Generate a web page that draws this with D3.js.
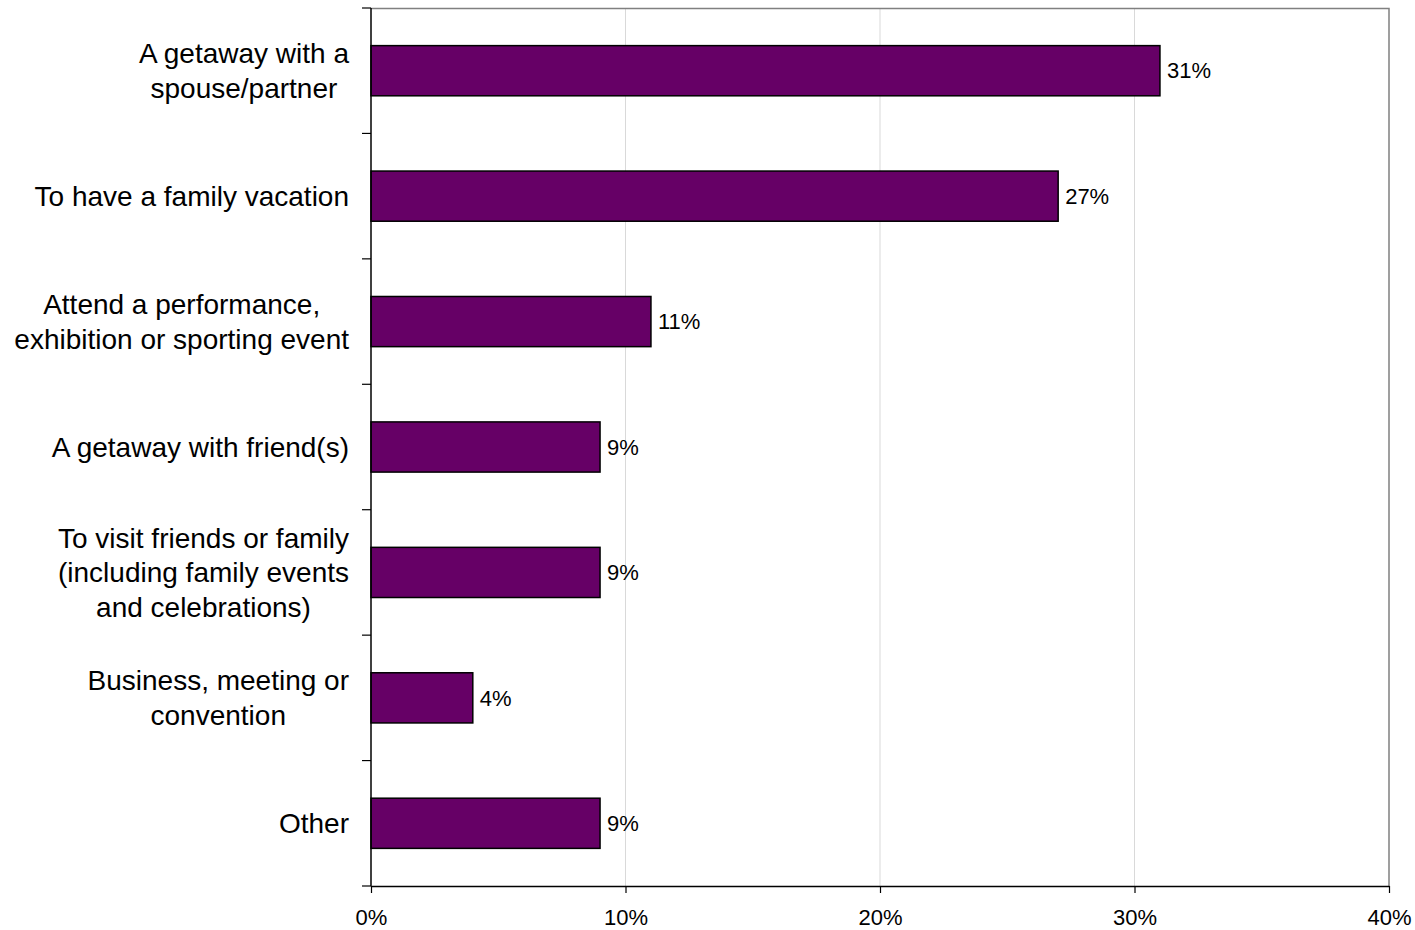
<!DOCTYPE html>
<html>
<head>
<meta charset="utf-8">
<script src="https://cdn.jsdelivr.net/npm/d3@7/dist/d3.min.js"></script>
<style>
  html, body { margin: 0; padding: 0; background: #fff; }
  svg { display: block; font-family: "Liberation Sans", Arial, sans-serif; }
</style>
</head>
<body>
<svg id="chart" width="1415" height="930"></svg>
<script>
// Reasons for trip (share of respondents)
const categories = [
  ["A getaway with a", "spouse/partner"],
  ["To have a family vacation"],
  ["Attend a performance,", "exhibition or sporting event"],
  ["A getaway with friend(s)"],
  ["To visit friends or family", "(including family events", "and celebrations)"],
  ["Business, meeting or", "convention"],
  ["Other"]
];
const values = [31, 27, 11, 9, 9, 4, 9];
const xTicks = [0, 10, 20, 30, 40];

const svg = d3.select("#chart");
const margin = { left: 371, right: 26, top: 8, bottom: 44 };
const W = 1415, H = 930;

const x = d3.scaleLinear().domain([0, 40]).range([margin.left, W - margin.right]);
const y = d3.scaleBand()
  .domain(d3.range(categories.length))
  .range([margin.top, H - margin.bottom])
  .paddingInner(0.6)
  .paddingOuter(0.3);

const yTop = margin.top, yBottom = H - margin.bottom;

// vertical gridlines
svg.append("g").selectAll("line")
  .data(xTicks.filter(t => t > 0 && t < 40))
  .join("line")
  .attr("x1", d => x(d)).attr("x2", d => x(d))
  .attr("y1", yTop).attr("y2", yBottom)
  .attr("stroke", "#d9d9d9").attr("stroke-width", 1);

// plot frame: top and right edges
svg.append("path")
  .attr("d", `M${x(0)},${yTop + 0.5}H${x(40)}V${yBottom}`)
  .attr("fill", "none").attr("stroke", "#808080").attr("stroke-width", 1.5);

// bars
svg.append("g").selectAll("rect")
  .data(values)
  .join("rect")
  .attr("x", x(0))
  .attr("y", (d, i) => y(i))
  .attr("width", d => x(d) - x(0))
  .attr("height", y.bandwidth())
  .attr("fill", "#660066")
  .attr("stroke", "#000").attr("stroke-width", 1.5);

// value labels
svg.append("g").selectAll("text")
  .data(values)
  .join("text")
  .attr("x", d => x(d) + 7)
  .attr("y", (d, i) => y(i) + y.bandwidth() / 2)
  .attr("dy", "0.35em")
  .attr("font-size", 22)
  .attr("fill", "#000")
  .text(d => d + "%");

// x axis
const xAxis = d3.axisBottom(x)
  .tickValues(xTicks)
  .tickFormat(d => d + "%")
  .tickSize(7)
  .tickSizeOuter(0)
  .tickPadding(16);
const gx = svg.append("g").attr("transform", `translate(0,${yBottom})`).call(xAxis);
gx.select(".domain").attr("stroke", "#000").attr("stroke-width", 1.5);
gx.selectAll(".tick line").attr("stroke", "#000").attr("stroke-width", 1.2);
gx.selectAll(".tick text").attr("font-size", 22).attr("font-family", "Liberation Sans, Arial, sans-serif").attr("fill", "#000");

// y axis line with boundary ticks between categories
const boundaries = d3.range(categories.length + 1).map(i => yTop + i * (yBottom - yTop) / categories.length);
svg.append("line")
  .attr("x1", x(0)).attr("x2", x(0)).attr("y1", yTop).attr("y2", yBottom)
  .attr("stroke", "#000").attr("stroke-width", 1.5);
svg.append("g").selectAll("line")
  .data(boundaries)
  .join("line")
  .attr("x1", x(0) - 9).attr("x2", x(0))
  .attr("y1", d => d).attr("y2", d => d)
  .attr("stroke", "#000").attr("stroke-width", 1.2);

// category labels: lines centred as a block, block right-aligned to the axis
const lineH = 34.5;
const labelRight = x(0) - 22;
categories.forEach((lines, i) => {
  const g = svg.append("g");
  const cy = y(i) + y.bandwidth() / 2;
  const texts = lines.map((t, k) => g.append("text")
    .attr("font-size", 28)
    .attr("fill", "#000")
    .attr("text-anchor", "middle")
    .attr("y", cy + (k - (lines.length - 1) / 2) * lineH)
    .attr("dy", "0.35em")
    .text(t));
  const widths = texts.map(t => t.node().getComputedTextLength());
  const maxW = d3.max(widths);
  texts.forEach(t => t.attr("x", labelRight - maxW / 2));
});
</script>
</body>
</html>
